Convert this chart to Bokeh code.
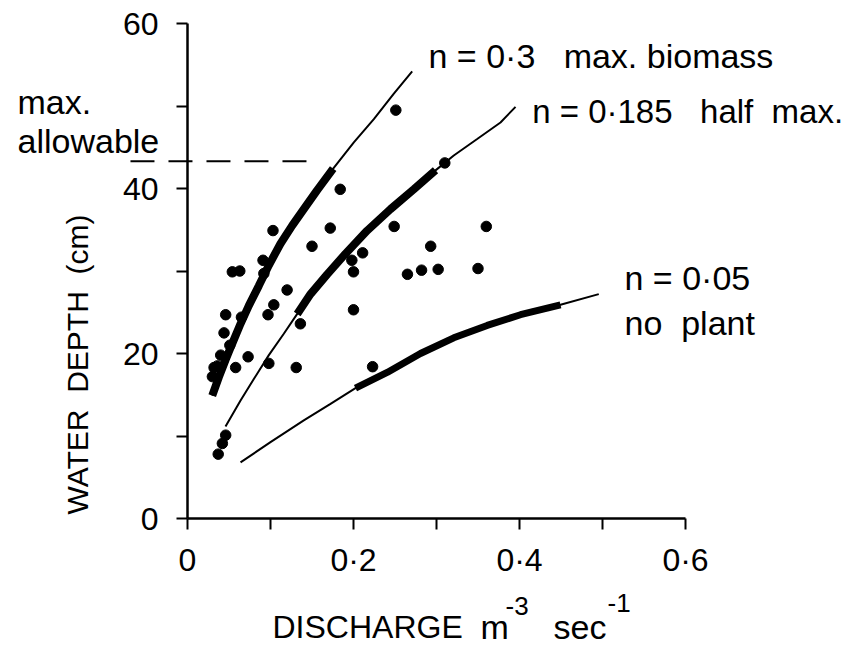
import math
from bokeh.plotting import figure
from bokeh.models import Range1d, FixedTicker, Label
from bokeh.embed import file_html
from bokeh.resources import INLINE

# ---------------- data ----------------
# observed points: discharge and water depth (cm)
obs_discharge = [0.184, 0.103, 0.172, 0.150, 0.091, 0.054, 0.063, 0.092, 0.120, 0.104,
                 0.097, 0.046, 0.065, 0.044, 0.051, 0.040, 0.073, 0.032, 0.030, 0.036,
                 0.058, 0.098, 0.131, 0.136, 0.249, 0.211, 0.198, 0.200, 0.200, 0.293,
                 0.265, 0.282, 0.302, 0.350, 0.360, 0.223, 0.310, 0.251, 0.046, 0.042,
                 0.037]
obs_depth = [39.9, 34.9, 35.2, 33.0, 31.3, 29.9, 30.0, 29.7, 27.7, 25.9,
             24.7, 24.7, 24.4, 22.5, 21.0, 19.8, 19.6, 18.3, 17.2, 18.5,
             18.3, 18.8, 18.3, 23.6, 35.4, 32.2, 31.3, 29.9, 25.3, 33.0,
             29.6, 30.1, 30.2, 30.3, 35.4, 18.4, 43.1, 49.5, 10.1, 9.1,
             7.8]

# n = 0.3 (max. biomass)
n030_q = [0.0298, 0.0377, 0.0458, 0.0539, 0.0639, 0.0739, 0.0859, 0.0980, 0.1120,
          0.1261, 0.1401, 0.1563, 0.1755, 0.2004, 0.2245, 0.2486, 0.2707]
n030_d = [14.9, 17.1, 19.2, 21.2, 23.6, 25.8, 28.2, 30.7, 33.3,
          35.5, 37.5, 39.8, 42.4, 45.6, 48.4, 51.5, 54.2]
n030_bold = (0, 12)

# n = 0.185 (half max.)
n0185_q = [0.0458, 0.0639, 0.0799, 0.0980, 0.1160, 0.1322, 0.1482, 0.1683, 0.1904,
           0.2165, 0.2446, 0.2727, 0.2988, 0.3208, 0.3490, 0.3771, 0.3952]
n0185_d = [11.15, 14.3, 16.9, 19.8, 22.4, 24.8, 27.2, 29.6, 32.1,
           34.9, 37.5, 39.9, 42.2, 44.0, 46.0, 48.0, 49.9]
n0185_bold = (5, 12)

# n = 0.05 (no plant)
n005_q = [0.0639, 0.1000, 0.1401, 0.1723, 0.2024, 0.2406, 0.2807, 0.3208, 0.3611,
          0.4012, 0.4494, 0.4955]
n005_d = [6.8, 9.25, 11.9, 13.9, 15.8, 17.7, 20.0, 21.9, 23.4,
          24.7, 25.9, 27.2]
n005_bold = (4, 10)

# max. allowable depth
max_allowable_depth = 43.3
max_allowable_q = [-0.0687, 0.1482]

x_ticks = [0, 0.1, 0.2, 0.3, 0.4, 0.5, 0.6]
x_tick_labels = ["0", "", "0\u00b72", "", "0\u00b74", "", "0\u00b76"]
y_ticks = [0, 10, 20, 30, 40, 50, 60]
y_tick_labels = ["0", "", "20", "", "40", "", "60"]

# ---------------- figure ----------------
W, H = 852, 645
PXX = 830.0   # px per unit discharge
PXY = 8.25    # px per cm
X0 = 187.0    # canvas x of q = 0
Y0 = 518.0    # canvas y (from top) of depth = 0

p = figure(width=W, height=H, output_backend="svg", toolbar_location=None,
           x_range=Range1d(-X0 / PXX, (W - X0) / PXX),
           y_range=Range1d(-(H - Y0) / PXY, Y0 / PXY),
           min_border=0, min_border_left=0, min_border_right=0,
           min_border_top=0, min_border_bottom=0)
p.outline_line_color = None
p.background_fill_color = "white"
p.border_fill_color = "white"
p.xgrid.visible = False
p.ygrid.visible = False

FONT = "Liberation Sans"
NB = "\u00a0"

for ax in (p.xaxis[0], p.yaxis[0]):
    ax.fixed_location = 0
    ax.axis_line_width = 2.5
    ax.axis_line_color = "black"
    ax.major_tick_line_width = 2
    ax.major_tick_line_color = "black"
    ax.major_tick_in = 0
    ax.major_tick_out = 11
    ax.minor_tick_out = 0
    ax.minor_tick_in = 0
    ax.major_label_text_font = FONT
    ax.major_label_text_font_size = "32px"
    ax.major_label_text_color = "black"
    ax.major_label_text_font_style = "normal"

p.xaxis[0].bounds = (0, 0.6)
p.yaxis[0].bounds = (0, 60)
p.xaxis[0].ticker = FixedTicker(ticks=x_ticks, minor_ticks=[])
p.yaxis[0].ticker = FixedTicker(ticks=y_ticks, minor_ticks=[])
p.xaxis[0].major_label_overrides = {t: s for t, s in zip(x_ticks, x_tick_labels)}
p.yaxis[0].major_label_overrides = {t: s for t, s in zip(y_ticks, y_tick_labels)}
p.xaxis[0].major_label_standoff = 12
p.yaxis[0].major_label_standoff = 18

# curves: thin full line + bold segment
for q, d, (a, b), bw in ((n030_q, n030_d, n030_bold, 8),
                          (n0185_q, n0185_d, n0185_bold, 8),
                          (n005_q, n005_d, n005_bold, 7)):
    p.line(q, d, line_color="black", line_width=2)
    p.line(q[a:b + 1], d[a:b + 1], line_color="black", line_width=bw, line_cap="butt")

# dashed max allowable
p.line(max_allowable_q, [max_allowable_depth] * 2, line_color="black",
       line_width=2, line_dash="24 14")

# observed points
p.scatter(obs_discharge, obs_depth, size=10.5, fill_color="black", line_color="black")

SHIFT = 11  # label baseline correction (px)


def lab(img_x, img_y, text, size="34px", shift=SHIFT, **kw):
    x = (img_x - X0) / PXX
    y = (Y0 - (img_y - shift)) / PXY
    p.add_layout(Label(x=x, y=y, text=text, text_font=FONT, text_font_size=size,
                       text_color="black", text_baseline=kw.pop("baseline", "alphabetic"),
                       text_align=kw.pop("align", "left"), **kw))


lab(428, 66.7, "n = 0\u00b73" + NB * 3 + "max. biomass")
lab(531.7, 121.7, "n = 0\u00b7185" + NB * 3 + "half" + NB * 2 + "max.", size="33px")
lab(624, 288.3, "n = 0\u00b705")
lab(624, 333.3, "no" + NB * 2 + "plant")
lab(17, 112.7, "max.")
lab(17, 151.7, "allowable")

# axis titles
lab(77, 364, "WATER" + NB * 2 + "DEPTH" + NB * 2 + "(cm)", size="30px", shift=0,
    baseline="middle", align="center", angle=math.pi / 2)
lab(272, 637, "DISCHARGE", size="32px")
lab(480, 637, "m")
lab(505, 616, "-3", size="26px")
lab(553, 637, "sec")
lab(607, 613, "-1", size="26px")

open("out.html", "w").write(file_html(p, INLINE))
